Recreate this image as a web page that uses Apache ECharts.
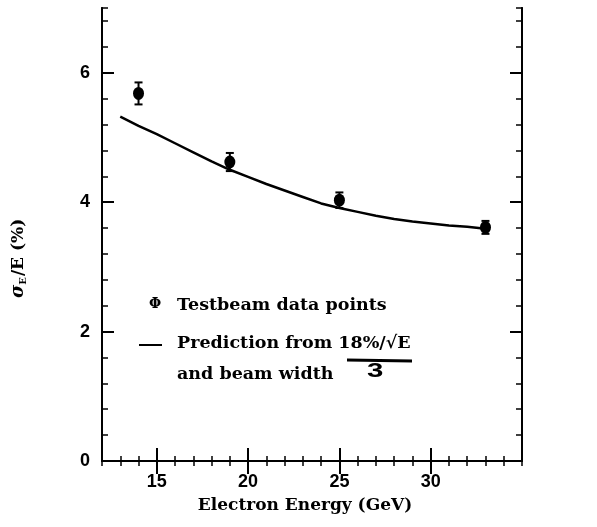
<!DOCTYPE html>
<html><head><meta charset="utf-8">
<script src="https://cdn.jsdelivr.net/npm/echarts@6/dist/echarts.min.js"></script>
<style>html,body{margin:0;padding:0;background:#fff}#c{width:597px;height:527px}</style>
</head><body><div id="c"></div>
<script>
// Data
const energies = [14, 19, 25, 33];
const resolution = [5.68, 4.62, 4.03, 3.61];
const errors = [0.17, 0.14, 0.12, 0.10];
const predE = [13, 14, 15, 16, 17, 18, 19, 20, 21, 22, 23, 24, 25, 26, 27, 28, 29, 30, 31, 32, 33];
const predRes = [5.32, 5.18, 5.05, 4.91, 4.77, 4.63, 4.50, 4.39, 4.28, 4.18, 4.08, 3.98, 3.91, 3.85, 3.79, 3.74, 3.70, 3.67, 3.64, 3.62, 3.59];
const xMajor = [15, 20, 25, 30];
const yMajor = [0, 2, 4, 6];

const serif = '"DejaVu Serif", serif';
const sans = '"Liberation Sans", Arial, sans-serif';
const lineW = 2;

function xAxisDef(pos, major, labels) {
  return {
    type: 'value', min: 12, max: 35, position: pos, gridIndex: 0,
    interval: major ? undefined : 1,
    axisLine: { show: true, lineStyle: { color: '#000', width: lineW } },
    axisTick: major ? { show: true, inside: true, length: 13, customValues: xMajor, lineStyle: { color: '#000', width: 2 } }
                    : { show: true, inside: true, length: 5, lineStyle: { color: '#000', width: 1.5 } },
    axisLabel: labels ? { show: true, customValues: xMajor, color: '#000', fontFamily: sans, fontWeight: 'bold', fontSize: 18, margin: 12 } : { show: false },
    splitLine: { show: false }
  };
}
function yAxisDef(pos, major, labels) {
  return {
    type: 'value', min: 0, max: 7, position: pos, gridIndex: 0,
    interval: major ? undefined : 0.4,
    axisLine: { show: true, lineStyle: { color: '#000', width: lineW } },
    axisTick: major ? { show: true, inside: true, length: 12, customValues: yMajor, lineStyle: { color: '#000', width: 2 } }
                    : { show: true, inside: true, length: 6, lineStyle: { color: '#000', width: 1.5 } },
    axisLabel: labels ? { show: true, customValues: yMajor, color: '#000', fontFamily: sans, fontWeight: 'bold', fontSize: 18, margin: 12 } : { show: false },
    splitLine: { show: false }
  };
}

const chart = echarts.init(document.getElementById('c'));
chart.setOption({
  animation: false,
  backgroundColor: '#fff',
  grid: { left: 102, right: 75, top: 8, bottom: 66 },
  xAxis: [xAxisDef('bottom', true, true), xAxisDef('bottom', false, false), xAxisDef('top', true, false), xAxisDef('top', false, false)],
  yAxis: [yAxisDef('left', true, true), yAxisDef('left', false, false), yAxisDef('right', true, false), yAxisDef('right', false, false)],
  series: [
    {
      type: 'line', data: predE.map((e, i) => [e, predRes[i]]),
      symbol: 'none', smooth: false, lineStyle: { color: '#000', width: 2.5 }
    },
    {
      type: 'custom',
      data: energies.map((e, i) => [e, resolution[i] - errors[i], resolution[i] + errors[i]]),
      renderItem: function (params, api) {
        const lo = api.coord([api.value(0), api.value(1)]);
        const hi = api.coord([api.value(0), api.value(2)]);
        const c = 4;
        return {
          type: 'group', children: [
            { type: 'line', shape: { x1: lo[0], y1: lo[1], x2: hi[0], y2: hi[1] }, style: { stroke: '#000', lineWidth: 2 } },
            { type: 'line', shape: { x1: lo[0] - c, y1: lo[1], x2: lo[0] + c, y2: lo[1] }, style: { stroke: '#000', lineWidth: 2 } },
            { type: 'line', shape: { x1: hi[0] - c, y1: hi[1], x2: hi[0] + c, y2: hi[1] }, style: { stroke: '#000', lineWidth: 2 } }
          ]
        };
      }
    },
    {
      type: 'scatter', data: energies.map((e, i) => [e, resolution[i]]),
      symbol: 'circle', symbolSize: [11, 13], itemStyle: { color: '#000', opacity: 1 }
    }
  ],
  graphic: [
    { type: 'text', x: 305, y: 506, style: { text: 'Electron Energy (GeV)', font: 'bold 17px ' + serif, fill: '#000', align: 'center', verticalAlign: 'middle' } },
    { type: 'text', x: 9, y: 298, rotation: Math.PI / 2, style: {
        text: '{s|σ}{sub|E}{t|/E (%)}', rich: {
          s: { fontFamily: serif, fontSize: 18, fontStyle: 'italic', fill: '#000', fontWeight: 'bold' },
          sub: { fontFamily: serif, fontSize: 10, fontWeight: 'bold', fill: '#000', padding: [9, 1, 0, 0] },
          t: { fontFamily: serif, fontSize: 17, fontWeight: 'bold', fill: '#000' }
        } } },
    { type: 'text', x: 149, y: 297, style: { text: 'Φ', font: 'bold 14px ' + serif, fill: '#000' } },
    { type: 'text', x: 177, y: 296, style: { text: 'Testbeam data points', font: 'bold 17.5px ' + serif, fill: '#000' } },
    { type: 'line', shape: { x1: 139, y1: 345, x2: 162, y2: 345 }, style: { stroke: '#000', lineWidth: 2 } },
    { type: 'text', x: 177, y: 334, style: { text: 'Prediction from 18%/√E', font: 'bold 17.5px ' + serif, fill: '#000' } },
    { type: 'line', shape: { x1: 347, y1: 360, x2: 412, y2: 361 }, style: { stroke: '#000', lineWidth: 3 } },
    { type: 'text', x: 367, y: 361, scaleX: 1.4, style: { text: '3', font: '900 21px ' + sans, fill: '#000' } },
    { type: 'text', x: 177, y: 365, style: { text: 'and beam width', font: 'bold 17.5px ' + serif, fill: '#000' } }
  ]
});
</script></body></html>
